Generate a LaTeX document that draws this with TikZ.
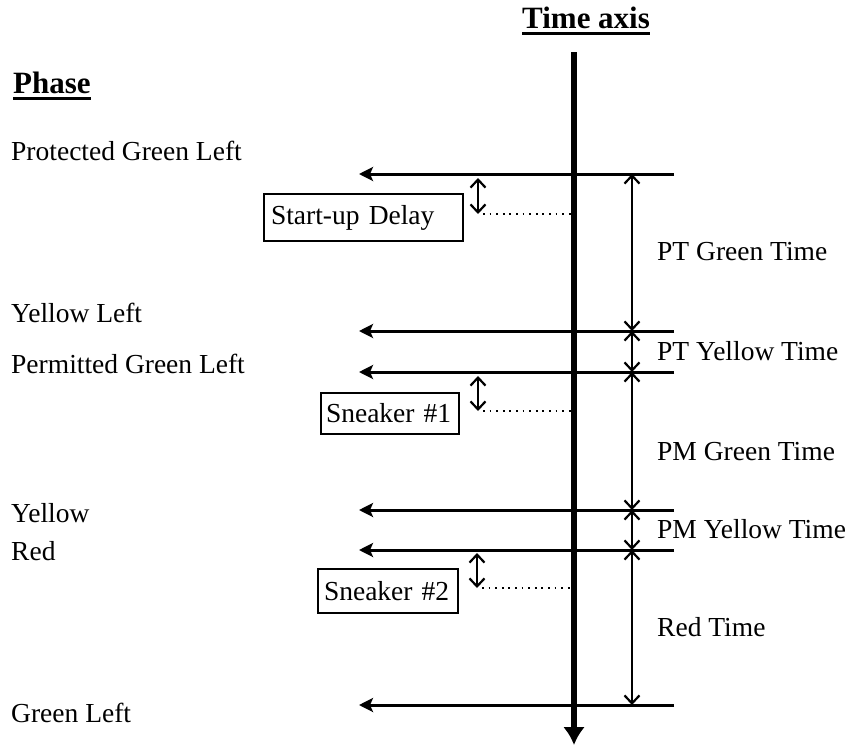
\documentclass[tikz,border=0pt]{standalone}
\usepackage{fontspec}
\setmainfont{Liberation Serif}
\usetikzlibrary{arrows.meta}
\begin{document}
\begin{tikzpicture}[x=1pt,y=-1pt,
  lab/.style={anchor=base west,inner sep=0pt,font=\fontsize{27.5}{30}\selectfont},
  head/.style={anchor=base west,inner sep=0pt,font=\fontsize{31}{34}\selectfont\bfseries},
  headline/.style={line width=3pt},
  phaseline/.style={line width=3pt,-{Stealth[length=14pt,width=14pt,inset=3pt]}},
  axisline/.style={line width=5.5pt,-{Latex[length=18pt,width=22pt]}},
  dim/.style={line width=2pt,{Straight Barb[length=8pt,width=15pt,line width=2.2pt]}-{Straight Barb[length=8pt,width=15pt,line width=2.2pt]}},
  dotline/.style={line width=2.4pt,dash pattern=on 1.8pt off 4.8pt},
  boxlab/.style={draw,line width=2pt,anchor=north west,inner ysep=0pt,align=left,
                 font=\fontsize{27.5}{30}\selectfont}
]
\useasboundingbox (0,0) rectangle (849,747);

% headings
\node[head] (th) at (522,28) {Time axis};
\draw[headline] ([yshift=-5pt]th.base west) -- ([yshift=-5pt]th.base east);
\node[head] (ph) at (13,93) {Phase};
\draw[headline] ([yshift=-5pt]ph.base west) -- ([yshift=-5pt]ph.base east);

% phase labels
\node[lab] (l1) at (11,160) {Protected Green Left};
\node[lab] (l2) at (11,322) {Yellow Left};
\node[lab] (l3) at (11,373) {Permitted Green Left};
\node[lab] (l4) at (11,522) {Yellow};
\node[lab] (l5) at (11,560) {Red};
\node[lab] (l6) at (11,722) {Green Left};

% time axis
\coordinate (atop) at (574,52);
\coordinate (abot) at (574,745);
\draw[axisline] (atop) -- (abot);

% phase change lines
\foreach \n/\y in {1/174,2/331,3/372,4/510,5/550,6/705}{
  \coordinate (r\n) at (674,\y);
  \coordinate (q\n) at (359,\y);
  \coordinate (d\n) at (632,\y);
  \draw[phaseline] (r\n) -- (q\n);
}

% dimension arrows
\draw[dim] (d1) -- (d2);
\draw[dim] (d2) -- (d3);
\draw[dim] (d3) -- (d4);
\draw[dim] (d4) -- (d5);
\draw[dim] (d5) -- (d6);

% right labels
\node[lab] (t1) at (657,260) {PT Green Time};
\node[lab] (t2) at (657,360) {PT Yellow Time};
\node[lab] (t3) at (657,460) {PM Green Time};
\node[lab] (t4) at (657,538) {PM Yellow Time};
\node[lab] (t5) at (657,636) {Red Time};

% delay boxes
\node[boxlab,inner xsep=7pt,text width=185pt,minimum height=47pt] (b1) at (263,193) {Start-up Delay};
\node[boxlab,inner xsep=5pt,text width=128pt,minimum height=41pt] (b2) at (320,392) {Sneaker \#1};
\node[boxlab,inner xsep=6pt,text width=128pt,minimum height=44pt] (b3) at (317,568) {Sneaker \#2};

% small delay arrows and dotted lines
\coordinate (s1a) at (478,178);
\coordinate (s1b) at (478,214);
\coordinate (s1c) at (572,214);
\coordinate (s2a) at (478,376);
\coordinate (s2b) at (478,411);
\coordinate (s2c) at (572,411);
\coordinate (s3a) at (477,553);
\coordinate (s3b) at (477,588);
\coordinate (s3c) at (572,588);
\foreach \k in {1,2,3}{
  \draw[dim,line width=1.7pt] (s\k a) -- (s\k b);
  \draw[dotline] ([xshift=5pt]s\k b) -- (s\k c);
}
\end{tikzpicture}
\end{document}
